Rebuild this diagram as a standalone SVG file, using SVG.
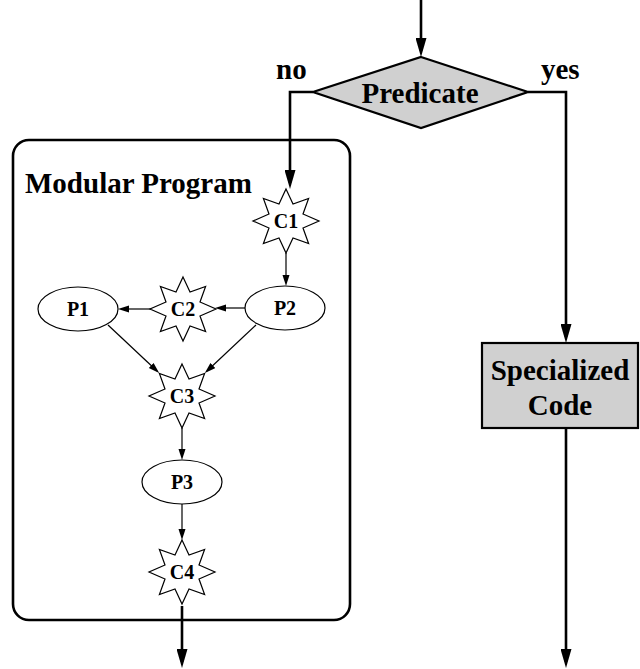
<svg xmlns="http://www.w3.org/2000/svg" width="640" height="669" viewBox="0 0 640 669">
  <style>
    text { font-family: "Liberation Serif", "Times New Roman", serif; font-weight: bold; fill: #000; }
    .big { font-size: 29px; }
    .small { font-size: 20px; text-anchor: middle; }
    .mid { text-anchor: middle; }
    .shape { fill: #fff; stroke: #000; stroke-width: 1.2; }
    .gray { fill: #d0d0d0; stroke: #000; stroke-width: 2.2; }
    .flow { fill: none; stroke: #000; stroke-width: 2.6; marker-end: url(#bigArrow); }
    .link { fill: none; stroke: #000; stroke-width: 1.2; marker-end: url(#smallArrow); }
  </style>
  <defs>
    <marker id="bigArrow" markerUnits="userSpaceOnUse" markerWidth="19" markerHeight="11" refX="13" refY="5.5" orient="auto">
      <path d="M0,0 L19,5.5 L0,11 Z" fill="#000"/>
    </marker>
    <marker id="smallArrow" markerUnits="userSpaceOnUse" markerWidth="11" markerHeight="8" refX="8" refY="4" orient="auto">
      <path d="M0,0.5 L11,4 L0,7.5 Z" fill="#000"/>
    </marker>
    <!-- eight-pointed star centred on the origin -->
    <polygon id="star" points="0,-32 7,-17 22.6,-22.6 17,-7 33,0 17,7 22.6,22.6 7,17 0,32 -7,17 -22.6,22.6 -17,7 -33,0 -17,-7 -22.6,-22.6 -7,-17"/>
  </defs>

  <!-- container for the modular program -->
  <g id="modular-program">
    <rect x="13" y="140" width="337" height="480" rx="16" ry="16" fill="none" stroke="#000" stroke-width="2.6"/>
    <text class="big" x="25" y="193">Modular Program</text>
  </g>

  <g id="predicate">
    <polygon class="gray" points="421,57 528,92 421,128 313,92"/>
    <text class="big mid" x="420" y="103">Predicate</text>
  </g>

  <g id="specialized-code">
    <rect class="gray" x="482" y="343" width="156" height="85"/>
    <text class="big mid" x="560" y="380">Specialized</text>
    <text class="big mid" x="560" y="415">Code</text>
  </g>

  <g id="branch-labels">
    <text class="big" x="276" y="79">no</text>
    <text class="big" x="541" y="79">yes</text>
  </g>

  <g id="C1">
    <use href="#star" class="shape" transform="translate(286,221)"/>
    <text class="small" x="286" y="228">C1</text>
  </g>
  <g id="P2">
    <ellipse class="shape" cx="285" cy="308" rx="40" ry="22"/>
    <text class="small" x="285" y="315">P2</text>
  </g>
  <g id="C2">
    <use href="#star" class="shape" transform="translate(183,309)"/>
    <text class="small" x="183" y="316">C2</text>
  </g>
  <g id="P1">
    <ellipse class="shape" cx="78" cy="309" rx="40" ry="22"/>
    <text class="small" x="78" y="316">P1</text>
  </g>
  <g id="C3">
    <use href="#star" class="shape" transform="translate(182,396)"/>
    <text class="small" x="182" y="403">C3</text>
  </g>
  <g id="P3">
    <ellipse class="shape" cx="182" cy="482" rx="40" ry="22"/>
    <text class="small" x="182" y="489">P3</text>
  </g>
  <g id="C4">
    <use href="#star" class="shape" transform="translate(182,572)"/>
    <text class="small" x="182" y="579">C4</text>
  </g>

  <g id="connectors">
    <!-- main control flow -->
    <path class="flow" d="M421,0 V51"/>
    <path class="flow" d="M313,92 H290 V183"/>
    <path class="flow" d="M528,92 H566 V337"/>
    <path class="flow" d="M566,428 V662"/>
    <path class="flow" d="M182,606 V662"/>
    <!-- links inside the modular program -->
    <path class="link" d="M286,253 V283"/>
    <path class="link" d="M245,308 H218"/>
    <path class="link" d="M151,309 H121"/>
    <path class="link" d="M108,325 L157,371"/>
    <path class="link" d="M256,325 L207,371"/>
    <path class="link" d="M182,428 V457"/>
    <path class="link" d="M182,504 V537"/>
  </g>
</svg>
